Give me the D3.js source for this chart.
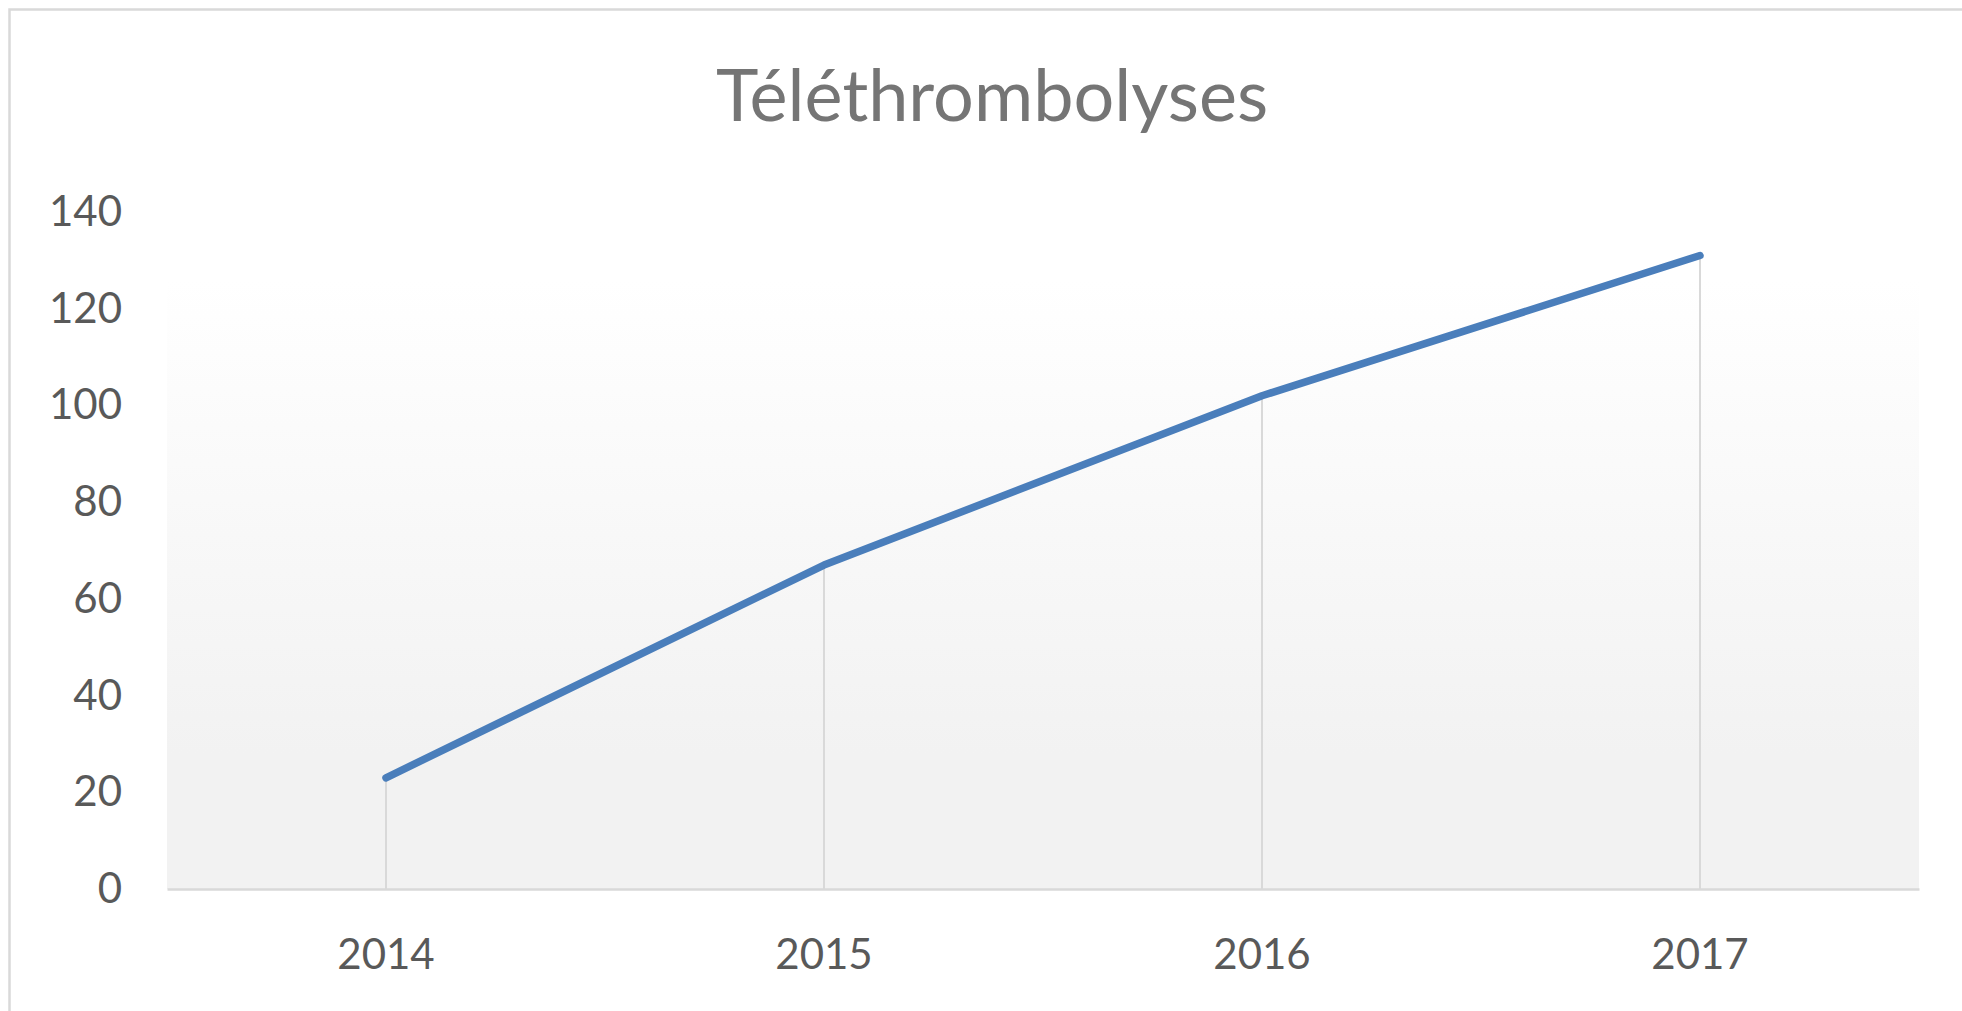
<!DOCTYPE html>
<html>
<head>
<meta charset="utf-8">
<script src="https://cdn.jsdelivr.net/npm/d3@7"></script>
<style>
  html, body { margin: 0; padding: 0; background: #fff; }
  text { font-family: Lato, "Open Sans", sans-serif; }
</style>
</head>
<body>
<div id="chart"></div>
<script>
// données
const annees = ["2014", "2015", "2016", "2017"]
const valeurs = [23, 67, 102, 131]
const yTicks = [0, 20, 40, 60, 80, 100, 120, 140]
const titre = "Téléthrombolyses"

const WIDTH = 1962
const HEIGHT = 1011
const gauche = 167, droite = 1919, haut = 212, bas = 889

const svg = d3.select("#chart")
  .append("svg")
  .attr("width", WIDTH)
  .attr("height", HEIGHT)

// cadre du graphique (haut et gauche visibles)
svg.append("rect")
  .attr("x", 9.5).attr("y", 9.5)
  .attr("width", WIDTH + 20).attr("height", HEIGHT + 20)
  .attr("fill", "#fff")
  .attr("stroke", "#d9d9d9")
  .attr("stroke-width", 2.5)

const defs = svg.append("defs")
const grad = defs.append("linearGradient")
  .attr("id", "fond")
  .attr("x1", 0).attr("y1", 0).attr("x2", 0).attr("y2", 1)
grad.append("stop").attr("offset", "0%").attr("stop-color", "#ffffff")
grad.append("stop").attr("offset", "10%").attr("stop-color", "#ffffff")
grad.append("stop").attr("offset", "80%").attr("stop-color", "#f2f2f2")
grad.append("stop").attr("offset", "100%").attr("stop-color", "#f2f2f2")

const x = d3.scaleBand().domain(annees).range([gauche, droite]).padding(0)
const y = d3.scaleLinear().domain([0, 140]).range([bas, haut])

svg.append("rect")
  .attr("x", gauche).attr("y", haut)
  .attr("width", droite - gauche).attr("height", bas - haut)
  .attr("fill", "url(#fond)")

svg.append("text")
  .attr("x", 992).attr("y", 121)
  .attr("text-anchor", "middle")
  .attr("font-size", 72)
  .attr("fill", "#757575")
  .text(titre)

// axe Y
const yAxis = svg.append("g")
  .attr("transform", "translate(122,0)")
  .call(d3.axisLeft(y).tickValues(yTicks).tickSize(0).tickPadding(0))
yAxis.select(".domain").remove()
yAxis.selectAll("text")
  .attr("font-size", 42)
  .attr("fill", "#595959")
  .attr("font-family", "Lato, 'Open Sans', sans-serif")

// lignes de projection
const cx = d => x(d) + x.bandwidth() / 2
svg.selectAll(".drop")
  .data(annees)
  .enter()
  .append("line")
    .attr("class", "drop")
    .attr("x1", d => cx(d)).attr("x2", d => cx(d))
    .attr("y1", (d, i) => y(valeurs[i])).attr("y2", bas)
    .attr("stroke", "#d9d9d9")
    .attr("stroke-width", 2)

// axe X
const xAxis = svg.append("g")
  .attr("transform", `translate(0,${bas})`)
  .call(d3.axisBottom(x).tickSize(0).tickPadding(50))
xAxis.select(".domain")
  .attr("stroke", "#d9d9d9")
  .attr("stroke-width", 2.5)
xAxis.selectAll("text")
  .attr("font-size", 42)
  .attr("fill", "#595959")
  .attr("font-family", "Lato, 'Open Sans', sans-serif")

// courbe
const ligne = d3.line()
  .x((d, i) => cx(annees[i]))
  .y(d => y(d))

svg.append("path")
  .datum(valeurs)
  .attr("d", ligne)
  .attr("fill", "none")
  .attr("stroke", "#4a7ebb")
  .attr("stroke-width", 7.5)
  .attr("stroke-linecap", "round")
  .attr("stroke-linejoin", "round")
</script>
</body>
</html>
